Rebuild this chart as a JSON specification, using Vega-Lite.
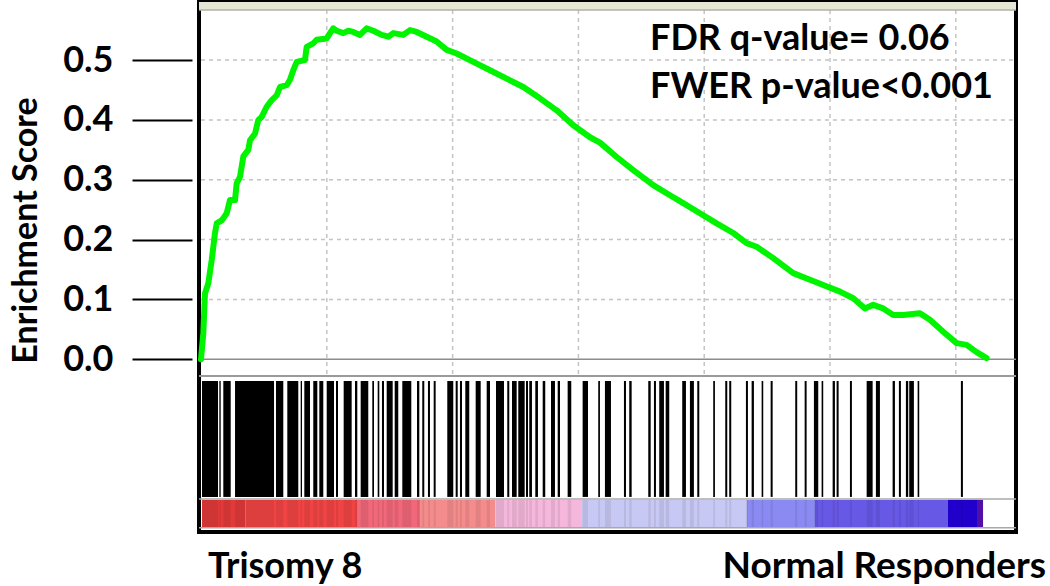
{
  "$schema": "https://vega.github.io/schema/vega-lite/v6.json",
  "width": 817,
  "height": 530,
  "autosize": {"type": "none"},
  "padding": {"left": 199, "top": 2, "right": 34, "bottom": 54},
  "background": "white",
  "config": {
    "view": {"stroke": "black", "strokeWidth": 4, "fill": "white"},
    "font": "Lato"
  },
  "datasets": {
    "curve": [
      {"rank": 0, "es": 0}, {"rank": 46, "es": 0.044}, {"rank": 79, "es": 0.11}, {"rank": 145, "es": 0.127},
      {"rank": 213, "es": 0.166}, {"rank": 278, "es": 0.211}, {"rank": 312, "es": 0.227}, {"rank": 411, "es": 0.232},
      {"rank": 511, "es": 0.244}, {"rank": 576, "es": 0.266}, {"rank": 676, "es": 0.266}, {"rank": 709, "es": 0.294},
      {"rank": 775, "es": 0.305}, {"rank": 841, "es": 0.339}, {"rank": 940, "es": 0.35}, {"rank": 974, "es": 0.366},
      {"rank": 1073, "es": 0.377}, {"rank": 1139, "es": 0.4}, {"rank": 1206, "es": 0.405}, {"rank": 1305, "es": 0.422},
      {"rank": 1405, "es": 0.433}, {"rank": 1504, "es": 0.441}, {"rank": 1570, "es": 0.455}, {"rank": 1703, "es": 0.458},
      {"rank": 1768, "es": 0.467}, {"rank": 1834, "es": 0.483}, {"rank": 1902, "es": 0.497}, {"rank": 2066, "es": 0.5},
      {"rank": 2100, "es": 0.522}, {"rank": 2231, "es": 0.528}, {"rank": 2299, "es": 0.534}, {"rank": 2498, "es": 0.536},
      {"rank": 2563, "es": 0.545}, {"rank": 2629, "es": 0.553}, {"rank": 2696, "es": 0.549}, {"rank": 2828, "es": 0.545},
      {"rank": 2927, "es": 0.549}, {"rank": 3026, "es": 0.547}, {"rank": 3159, "es": 0.542}, {"rank": 3292, "es": 0.553},
      {"rank": 3424, "es": 0.549}, {"rank": 3591, "es": 0.542}, {"rank": 3722, "es": 0.539}, {"rank": 3821, "es": 0.545},
      {"rank": 4020, "es": 0.542}, {"rank": 4153, "es": 0.55}, {"rank": 4286, "es": 0.547}, {"rank": 4485, "es": 0.539},
      {"rank": 4683, "es": 0.531}, {"rank": 4882, "es": 0.517}, {"rank": 5081, "es": 0.511}, {"rank": 5411, "es": 0.497},
      {"rank": 5743, "es": 0.483}, {"rank": 6074, "es": 0.469}, {"rank": 6404, "es": 0.455}, {"rank": 6736, "es": 0.436},
      {"rank": 7068, "es": 0.416}, {"rank": 7398, "es": 0.391}, {"rank": 7730, "es": 0.371}, {"rank": 7928, "es": 0.362},
      {"rank": 8260, "es": 0.338}, {"rank": 8590, "es": 0.316}, {"rank": 8987, "es": 0.291}, {"rank": 9319, "es": 0.274},
      {"rank": 9583, "es": 0.261}, {"rank": 9915, "es": 0.244}, {"rank": 10247, "es": 0.227}, {"rank": 10577, "es": 0.211},
      {"rank": 10843, "es": 0.194}, {"rank": 11042, "es": 0.188}, {"rank": 11372, "es": 0.169}, {"rank": 11769, "es": 0.144},
      {"rank": 12101, "es": 0.133}, {"rank": 12365, "es": 0.124}, {"rank": 12697, "es": 0.113}, {"rank": 12962, "es": 0.102},
      {"rank": 13194, "es": 0.085}, {"rank": 13358, "es": 0.091}, {"rank": 13557, "es": 0.085}, {"rank": 13756, "es": 0.074},
      {"rank": 13955, "es": 0.074}, {"rank": 14287, "es": 0.077}, {"rank": 14485, "es": 0.066}, {"rank": 14750, "es": 0.046},
      {"rank": 15016, "es": 0.027}, {"rank": 15215, "es": 0.024}, {"rank": 15413, "es": 0.012}, {"rank": 15612, "es": 0.002}
    ],
    "hits": [
      {"s": 20, "e": 338}, {"s": 364, "e": 391}, {"s": 443, "e": 590}, {"s": 676, "e": 1451}, {"s": 1490, "e": 1635},
      {"s": 1715, "e": 1933}, {"s": 1981, "e": 2007}, {"s": 2053, "e": 2166}, {"s": 2231, "e": 2311}, {"s": 2351, "e": 2430},
      {"s": 2498, "e": 2643}, {"s": 2682, "e": 2722}, {"s": 2835, "e": 2994}, {"s": 3060, "e": 3106}, {"s": 3173, "e": 3324},
      {"s": 3404, "e": 3438}, {"s": 3511, "e": 3543}, {"s": 3596, "e": 3636}, {"s": 3690, "e": 3809}, {"s": 3849, "e": 3920},
      {"s": 4000, "e": 4179}, {"s": 4292, "e": 4338}, {"s": 4397, "e": 4437}, {"s": 4510, "e": 4550}, {"s": 4624, "e": 4663},
      {"s": 4894, "e": 5013}, {"s": 5061, "e": 5101}, {"s": 5146, "e": 5186}, {"s": 5252, "e": 5331}, {"s": 5458, "e": 5558},
      {"s": 5677, "e": 5743}, {"s": 5862, "e": 6021}, {"s": 6086, "e": 6126}, {"s": 6180, "e": 6273}, {"s": 6305, "e": 6432},
      {"s": 6458, "e": 6498}, {"s": 6523, "e": 6577}, {"s": 6643, "e": 6696}, {"s": 6790, "e": 6841}, {"s": 6955, "e": 7034},
      {"s": 7088, "e": 7134}, {"s": 7286, "e": 7358}, {"s": 7584, "e": 7690}, {"s": 7894, "e": 7928}, {"s": 8027, "e": 8147},
      {"s": 8405, "e": 8445}, {"s": 8510, "e": 8558}, {"s": 8888, "e": 8936}, {"s": 9001, "e": 9041}, {"s": 9106, "e": 9200},
      {"s": 9234, "e": 9305}, {"s": 9563, "e": 9637}, {"s": 9716, "e": 9795}, {"s": 9862, "e": 9902}, {"s": 10179, "e": 10213},
      {"s": 10418, "e": 10458}, {"s": 10497, "e": 10537}, {"s": 10829, "e": 10869}, {"s": 10942, "e": 10988}, {"s": 11141, "e": 11173},
      {"s": 11320, "e": 11360}, {"s": 11809, "e": 11848}, {"s": 11996, "e": 12035}, {"s": 12180, "e": 12266}, {"s": 12333, "e": 12365},
      {"s": 12552, "e": 12598}, {"s": 12631, "e": 12671}, {"s": 12896, "e": 12935}, {"s": 13228, "e": 13347}, {"s": 13412, "e": 13492},
      {"s": 13744, "e": 13790}, {"s": 13869, "e": 13909}, {"s": 14008, "e": 14054}, {"s": 14074, "e": 14167}, {"s": 14241, "e": 14273},
      {"s": 15101, "e": 15141}
    ],
    "bands": [
      {"band": "b1", "s": 20, "e": 885}, {"band": "b2", "s": 885, "e": 3100}, {"band": "b3", "s": 3100, "e": 4352},
      {"band": "b4", "s": 4352, "e": 5843}, {"band": "b5", "s": 5843, "e": 7572}, {"band": "b6", "s": 7572, "e": 10850},
      {"band": "b7", "s": 10850, "e": 12201}, {"band": "b8", "s": 12201, "e": 14845}, {"band": "b9", "s": 14845, "e": 15421},
      {"band": "b10", "s": 15421, "e": 15541}
    ],
    "gridx": [{"rank": 2500}, {"rank": 5000}, {"rank": 7500}, {"rank": 10000}, {"rank": 12500}, {"rank": 15000}],
    "gridy": [{"es": 0.1}, {"es": 0.2}, {"es": 0.3}, {"es": 0.4}, {"es": 0.5}]
  },
  "encoding": {
    "x": {"type": "quantitative", "scale": {"domain": [-40, 16196], "nice": false, "zero": false}, "axis": null},
    "y": {"type": "quantitative", "scale": {"domain": [-0.2886, 0.597], "nice": false, "zero": false}}
  },
  "layer": [
    {
      "data": {"values": [{}]},
      "mark": {"type": "rect", "fill": "#e6e6d4"},
      "encoding": {
        "x": {"datum": -40, "type": "quantitative"},
        "x2": {"datum": 16196},
        "y": {"datum": 0.597, "type": "quantitative",
          "axis": {
            "values": [0, 0.1, 0.2, 0.3, 0.4, 0.5], "format": ".1f", "domain": false, "grid": false,
            "ticks": true, "tickSize": 60, "tickWidth": 2, "tickColor": "black", "offset": 7,
            "labelFont": "Lato", "labelFontSize": 36, "labelFontWeight": "bold", "labelColor": "black", "labelPadding": 19,
            "title": "Enrichment Score", "titleFont": "Lato", "titleFontSize": 34, "titleFontWeight": "bold", "titleColor": "black",
            "titleX": -156, "titleY": 228, "titleBaseline": "alphabetic", "titleAlign": "center", "titleAngle": 270
          }
        },
        "y2": {"datum": 0.5836}
      }
    },
    {
      "data": {"name": "gridx"},
      "mark": {"type": "rule", "color": "#c4c4c4", "strokeWidth": 1.5, "strokeDash": [4, 4]},
      "encoding": {
        "x": {"field": "rank", "type": "quantitative"},
        "y": {"datum": 0.5836, "type": "quantitative"},
        "y2": {"datum": -0.0279}
      }
    },
    {
      "data": {"name": "gridy"},
      "mark": {"type": "rule", "color": "#c4c4c4", "strokeWidth": 1.5, "strokeDash": [4, 4]},
      "encoding": {
        "y": {"field": "es", "type": "quantitative"},
        "x": {"datum": 0, "type": "quantitative"},
        "x2": {"datum": 16157}
      }
    },
    {
      "data": {"values": [{}]},
      "mark": {"type": "rule", "color": "#b0b0a8", "strokeWidth": 1.5},
      "encoding": {"y": {"datum": 0.5836, "type": "quantitative"}, "x": {"datum": -40, "type": "quantitative"}, "x2": {"datum": 16196}}
    },
    {
      "data": {"values": [{}]},
      "mark": {"type": "rule", "color": "#8c8c8c", "strokeWidth": 1.5},
      "encoding": {"y": {"datum": 0, "type": "quantitative"}, "x": {"datum": -40, "type": "quantitative"}, "x2": {"datum": 16196}}
    },
    {
      "data": {"values": [{}]},
      "mark": {"type": "rule", "color": "#9a9a9a", "strokeWidth": 2},
      "encoding": {"y": {"datum": -0.0279, "type": "quantitative"}, "x": {"datum": -40, "type": "quantitative"}, "x2": {"datum": 16196}}
    },
    {
      "data": {"values": [{}]},
      "mark": {"type": "rule", "color": "#a8a8a8", "strokeWidth": 1.5},
      "encoding": {"y": {"datum": -0.2333, "type": "quantitative"}, "x": {"datum": -40, "type": "quantitative"}, "x2": {"datum": 16196}}
    },
    {
      "data": {"values": [{}]},
      "mark": {"type": "rule", "color": "#a8a8a8", "strokeWidth": 1.5},
      "encoding": {"y": {"datum": -0.2817, "type": "quantitative"}, "x": {"datum": -40, "type": "quantitative"}, "x2": {"datum": 16196}}
    },
    {
      "data": {"name": "bands"},
      "mark": {"type": "rect"},
      "encoding": {
        "x": {"field": "s", "type": "quantitative"},
        "x2": {"field": "e"},
        "y": {"datum": -0.235, "type": "quantitative"},
        "y2": {"datum": -0.2802},
        "fill": {"field": "band", "type": "nominal", "legend": null,
          "scale": {"domain": ["b1","b2","b3","b4","b5","b6","b7","b8","b9","b10"],
            "range": ["#e23a3a","#f04444","#f0687a","#f58c8c","#f5b8dc","#c8c8f5","#8a8af2","#6858e6","#2200cc","#5010a8"]}}
      }
    },
    {
      "data": {"name": "hits"},
      "mark": {"type": "rect", "fill": "black", "opacity": 0.08},
      "encoding": {
        "x": {"field": "s", "type": "quantitative"},
        "x2": {"field": "e"},
        "y": {"datum": -0.235, "type": "quantitative"},
        "y2": {"datum": -0.2802}
      }
    },
    {
      "data": {"name": "hits"},
      "mark": {"type": "rect", "fill": "black"},
      "encoding": {
        "x": {"field": "s", "type": "quantitative"},
        "x2": {"field": "e"},
        "y": {"datum": -0.0363, "type": "quantitative"},
        "y2": {"datum": -0.230}
      }
    },
    {
      "data": {"name": "curve"},
      "mark": {"type": "line", "color": "#00f400", "strokeWidth": 6, "strokeJoin": "round", "strokeCap": "round"},
      "encoding": {
        "x": {"field": "rank", "type": "quantitative"},
        "y": {"field": "es", "type": "quantitative"}
      }
    },
    {
      "data": {"values": [{}]},
      "mark": {"type": "text", "text": ["FDR q-value= 0.06", "FWER p-value<0.001"], "lineHeight": 48, "align": "left", "baseline": "alphabetic", "font": "Lato", "fontSize": 36, "fontWeight": "bold", "color": "black"},
      "encoding": {"x": {"datum": 8923, "type": "quantitative"}, "y": {"datum": 0.5168, "type": "quantitative"}}
    },
    {
      "data": {"values": [{}]},
      "mark": {"type": "text", "text": "Trisomy 8", "align": "left", "baseline": "alphabetic", "font": "Lato", "fontSize": 36, "fontWeight": "bold", "color": "black"},
      "encoding": {"x": {"datum": 139, "type": "quantitative"}, "y": {"datum": -0.3654, "type": "quantitative"}}
    },
    {
      "data": {"values": [{}]},
      "mark": {"type": "text", "text": "Normal Responders", "align": "right", "baseline": "alphabetic", "font": "Lato", "fontSize": 37, "fontWeight": "bold", "color": "black"},
      "encoding": {"x": {"datum": 16793, "type": "quantitative"}, "y": {"datum": -0.3654, "type": "quantitative"}}
    }
  ]
}
